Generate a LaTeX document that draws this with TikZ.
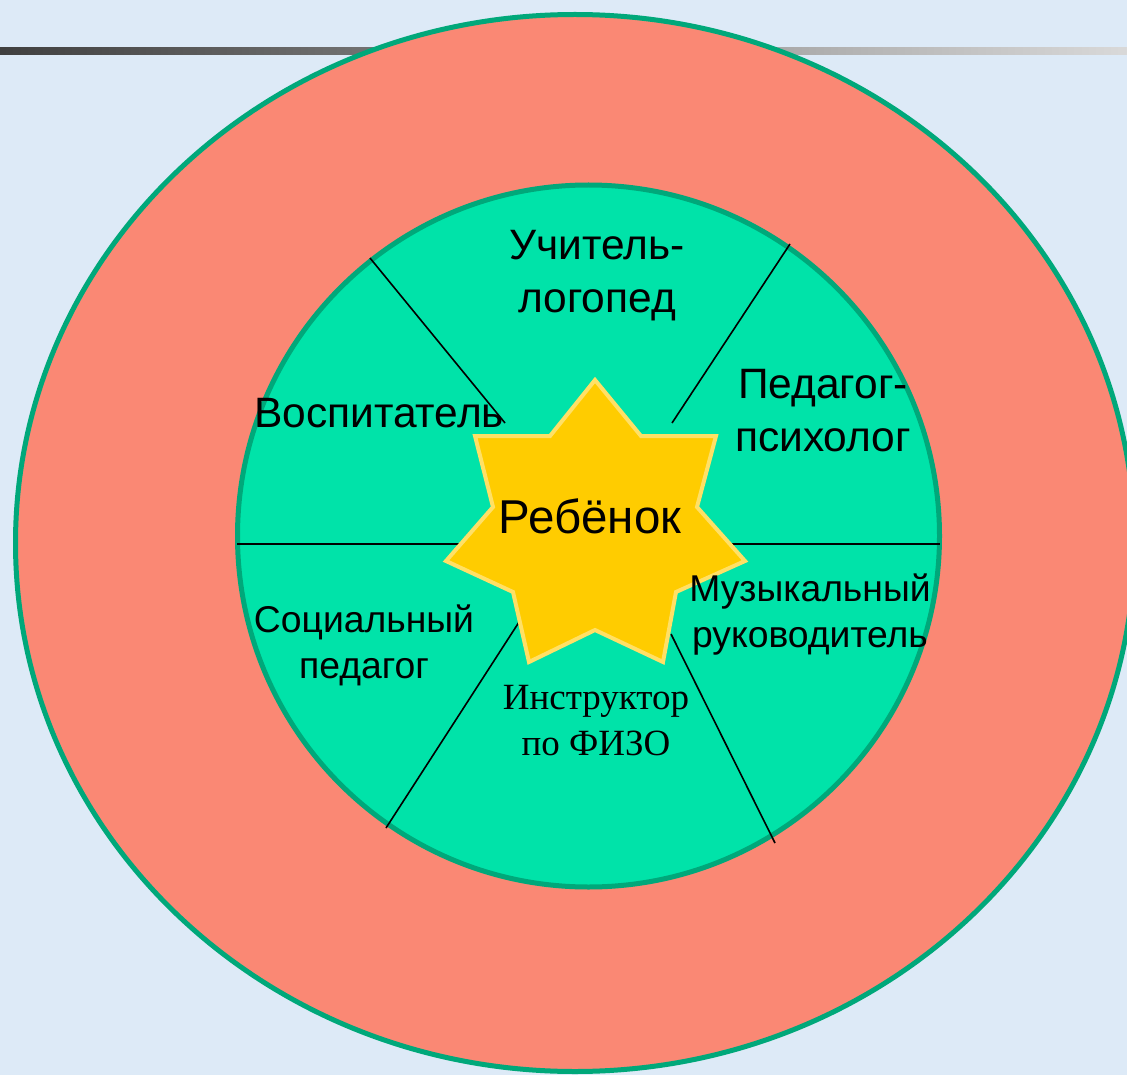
\documentclass[tikz,border=0pt]{standalone}
\usepackage{fontspec}
\setmainfont{Liberation Sans}
\newfontfamily\serifrm{Liberation Serif}
\definecolor{bgblue}{HTML}{DDEAF7}
\definecolor{salmon}{HTML}{FA8874}
\definecolor{ringline}{HTML}{00A87A}
\definecolor{mint}{HTML}{00E3A9}
\definecolor{gold}{HTML}{FFCC00}
\definecolor{goldline}{HTML}{FFE066}
\tikzset{
  sep/.style={draw=black, line width=1.6pt},
  lbl/.style={align=center, inner sep=0pt, font=\fontsize{42.5}{53}\selectfont},
  lblsmall/.style={align=center, inner sep=0pt, font=\fontsize{37.3}{46}\selectfont},
}
\begin{document}
\begin{tikzpicture}[x=1pt,y=-1pt]
\clip (0,0) rectangle (1127,1075);
\fill[bgblue] (0,0) rectangle (1127,1075);
\shade[left color=black!75, right color=black!15] (0,48) rectangle (1127,55);
% outer ring
\filldraw[fill=salmon, draw=ringline, line width=5pt] (575,543) ellipse [x radius=559.5, y radius=528.5];
% inner circle
\filldraw[fill=mint, draw=ringline, line width=5pt] (588.5,536) circle [radius=351];
% separator end points
\coordinate (a1) at (370,258); \coordinate (a2) at (505,423);
\coordinate (b1) at (790,244); \coordinate (b2) at (672,423);
\coordinate (c1) at (237,544); \coordinate (c2) at (462,544);
\coordinate (d1) at (730,544); \coordinate (d2) at (940,544);
\coordinate (e1) at (521,619); \coordinate (e2) at (386,828);
\coordinate (f1) at (671,634); \coordinate (f2) at (775,843);
\draw[sep] (a1) -- (a2);
\draw[sep] (b1) -- (b2);
\draw[sep] (c1) -- (c2);
\draw[sep] (d1) -- (d2);
\draw[sep] (e1) -- (e2);
\draw[sep] (f1) -- (f2);
% star
\filldraw[fill=gold, draw=goldline, line width=4pt, line join=miter]
  (595,380) -- (641,436) -- (716,436) -- (697,507) -- (745,561) -- (676,592)
  -- (663,662) -- (595,630) -- (529,662) -- (513,592) -- (446,561)
  -- (493,507) -- (475,436) -- (550,436) -- cycle;
% labels
\node[lbl] (uchitel) at (597,276) {Учитель-\\логопед};
\node[lbl] (vosp) at (379,413) {Воспитатель};
\node[lbl] (psych) at (823,411) {Педагог-\\психолог};
\node[font=\fontsize{47.5}{54}\selectfont, inner sep=0pt] (child) at (590,516) {Ребёнок};
\node[lblsmall] (social) at (364,645) {Социальный\\педагог};
\node[align=center, inner sep=0pt, font=\fontsize{37.3}{46}\selectfont] (music) at (810,615) {Музыкальный\\руководитель};
\node[align=center, inner sep=0pt, font=\serifrm\fontsize{37}{46}\selectfont] (fizo) at (596,721) {Инструктор\\по ФИЗО};
\end{tikzpicture}
\end{document}
